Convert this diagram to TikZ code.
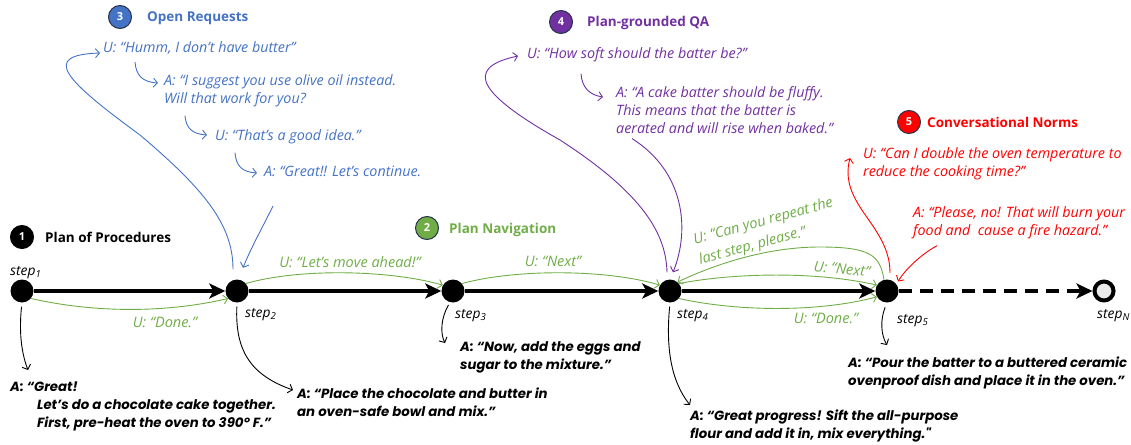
\documentclass[tikz,border=0pt]{standalone}
\usepackage{fontspec}
\setmainfont{Open Sans}
\newfontfamily\heavyfont{Poppins}
\usetikzlibrary{arrows.meta,calc}
\definecolor{bluC}{RGB}{68,114,196}
\definecolor{grnC}{RGB}{112,173,71}
\definecolor{purC}{RGB}{112,48,160}
\definecolor{redC}{RGB}{255,0,0}
\definecolor{rimC}{RGB}{40,50,75}
\begin{document}
\begin{tikzpicture}[x=1pt,y=-1pt,
 dot/.style={circle,fill=black,minimum size=23pt,inner sep=0pt},
 endnode/.style={circle,draw=black,line width=4pt,fill=black!8,minimum size=19pt,inner sep=0pt},
 badge/.style={circle,draw=rimC,line width=1pt,minimum size=23pt,inner sep=0pt,text=white,font=\bfseries\fontsize{11}{11}\selectfont},
 title/.style={anchor=base west,inner sep=0pt,font=\bfseries\fontsize{13.5}{16}\selectfont},
 said/.style={anchor=north west,inner sep=0pt,align=left,font=\itshape\fontsize{14.3}{18}\selectfont},
 reply/.style={anchor=north west,inner sep=0pt,align=left,font=\heavyfont\bfseries\itshape\fontsize{13.3}{18}\selectfont},
 steplbl/.style={anchor=base west,inner sep=0pt,font=\itshape\fontsize{13.8}{15}\selectfont},
 flow/.style={line width=4.5pt,-{Stealth[length=16pt,width=15pt,inset=4pt]}},
 talk/.style={line width=0.9pt,-{Straight Barb[length=4pt,width=9pt]}},
 glabel/.style={inner sep=0pt,text=grnC,font=\itshape\fontsize{14.5}{21}\selectfont},
]
\useasboundingbox (0,0) rectangle (1131,444);

% steps
\node[dot] (s1) at (22,291) {};
\node[dot] (s2) at (237,291) {};
\node[dot] (s3) at (453,291) {};
\node[dot] (s4) at (670,291) {};
\node[dot] (s5) at (887,291) {};
\node[endnode] (sN) at (1104,291) {};

\node[steplbl] (l1) at (10,275) {step\textsubscript{1}};
\node[steplbl] (l2) at (245,317) {step\textsubscript{2}};
\node[steplbl] (l3) at (455,318) {step\textsubscript{3}};
\node[steplbl] (l4) at (677,318) {step\textsubscript{4}};
\node[steplbl] (l5) at (897,323) {step\textsubscript{5}};
\node[steplbl] (lN) at (1097,318) {step\textsubscript{N}};

% badges and titles
\node[badge,fill=black,draw=black] (k1) at (22,237) {1};
\node[title] (t1) at (45,242) {Plan of Procedures};
\node[badge,fill=grnC] (k2) at (427,228) {2};
\node[title,text=grnC] (t2) at (449,233) {Plan Navigation};
\node[badge,fill=bluC] (k3) at (120,17) {3};
\node[title,text=bluC] (t3) at (147,22) {Open Requests};
\node[badge,fill=purC] (k4) at (561,22) {4};
\node[title,text=purC] (t4) at (587,27) {Plan-grounded QA};
\node[badge,fill=redC] (k5) at (909,122) {5};
\node[title,text=redC] (t5) at (927,127) {Conversational Norms};

% blue dialogue
\node[said,text=bluC] (bu) at (103,41) {U: “Humm, I don’t have butter”};
\node[said,text=bluC] (ba) at (164,74) {A: “I suggest you use olive oil instead.\\Will that work for you?};
\node[said,text=bluC] (bt) at (215,129) {U: “That’s a good idea.”};
\node[said,text=bluC] (bg) at (264,166) {A: “Great!! Let’s continue.};

% purple dialogue
\node[said,text=purC] (pu) at (527,47) {U: “How soft should the batter be?”};
\node[said,text=purC] (pa) at (616,86) {A: “A cake batter should be fluffy.\\This means that the batter is\\aerated and will rise when baked.”};

% red dialogue
\node[said,text=redC] (ru) at (863,147) {U: “Can I double the oven temperature to\\reduce the cooking time?”};
\node[said,text=redC] (ra) at (913,206) {A: “Please, no! That will burn your\\food and\ \ cause a fire hazard.”};

% black replies
\node[reply] (a1) at (10,382) {A: “Great!\\\hspace*{27pt}Let’s do a chocolate cake together.\\\hspace*{27pt}First, pre-heat the oven to 390º F.”};
\node[reply] (a2) at (297,388) {A: “Place the chocolate and butter in\\an oven-safe bowl and mix.”};
\node[reply] (a3) at (460,341) {A: “Now, add the eggs and\\sugar to the mixture.”};
\node[reply] (a4) at (690,410) {A: “Great progress! Sift the all-purpose\\flour and add it in, mix everything."};
\node[reply] (a5) at (848,357) {A: “Pour the batter to a buttered ceramic\\ovenproof dish and place it in the oven.”};

% green labels
\node[glabel] (gd1) at (165,322) {U: “Done.”};
\node[glabel] (gm) at (350,262) {U: “Let’s move ahead!”};
\node[glabel] (gn1) at (553,261) {U: “Next”};
\node[glabel,rotate=-6] (gn2) at (842,269) {U: “Next”};
\node[glabel] (gd2) at (826,318) {U: “Done.”};
\node[glabel,rotate=15,align=left] (gr) at (766,232) {U: “Can you repeat the\\last step, please.”};

% main flow
\draw[flow] (s1) -- (s2);
\draw[flow] (s2) -- (s3);
\draw[flow] (s3) -- (s4);
\draw[flow] (s4) -- (s5);
\draw[flow,dash pattern=on 13pt off 8pt] (s5) -- (sN);

% black reply arrows
\draw[talk,shorten <=4pt] (s1.south) .. controls (19,330) and (21,352) .. ([xshift=18pt,yshift=12pt]a1.north west);
\draw[talk,shorten <=4pt] (s2.south) .. controls (235,350) and (250,375) .. ([xshift=-4pt,yshift=-2pt]a2.north west);
\draw[talk,shorten <=3pt] (s3.255) .. controls (441,318) and (440,333) .. ([xshift=-15pt,yshift=-2pt]a3.north west);
\draw[talk,shorten <=4pt] (s4.south) .. controls (666,345) and (670,380) .. ([yshift=5pt]a4.north west);
\draw[talk,shorten <=5pt] (s5.south) .. controls (880,320) and (881,335) .. ([xshift=39pt,yshift=12pt]a5.north west);

% green navigation arrows
\begin{scope}[every path/.append style={draw=grnC}]
\draw[talk] (s1.-40) .. controls (100,314) and (170,312) .. (s2.220);
\draw[talk] (s2.40) .. controls (300,268) and (390,270) .. (s3.150);
\draw[talk] (s3.40) .. controls (520,268) and (610,270) .. (s4.150);
\draw[talk] (s4.40) .. controls (740,272) and (820,272) .. (s5.150);
\draw[talk] (s4.-40) .. controls (740,312) and (820,312) .. (s5.-150);
\draw[talk] (s5.105) .. controls (880,255) and (870,247) .. (820,247) .. controls (770,247) and (720,262) .. (s4.50);
\end{scope}

% blue arrows
\begin{scope}[every path/.append style={draw=bluC}]
\draw[talk] ([xshift=-4pt,yshift=10pt]s2.north) .. controls (233,225) and (205,190) .. (140,135) .. controls (65,80) and (40,55) .. ([xshift=-3pt,yshift=-12pt]bu.north west);
\draw[talk] ([xshift=32pt,yshift=-21pt]bu.north west) .. controls (136,75) and (142,82) .. ([xshift=-6pt,yshift=-9pt]ba.north west);
\draw[talk] ([xshift=21pt,yshift=-9pt]ba.south west) .. controls (186,128) and (192,134) .. ([xshift=-8pt,yshift=-6pt]bt.north west);
\draw[talk] ([xshift=20pt,yshift=-9pt]bt.south west) .. controls (236,166) and (242,172) .. ([xshift=-7pt,yshift=-7pt]bg.north west);
\draw[talk] ([xshift=9pt,yshift=-29pt]bg.south west) .. controls (262,228) and (250,250) .. ([xshift=6pt,yshift=11.5pt]s2.north);
\end{scope}

% purple arrows
\begin{scope}[every path/.append style={draw=purC}]
\draw[talk] ([xshift=-3pt,yshift=7pt]s4.north) .. controls (666,235) and (645,195) .. (560,140) .. controls (480,95) and (462,68) .. ([xshift=-9pt,yshift=-9pt]pu.north west);
\draw[talk] ([xshift=54pt,yshift=-12pt]pu.south west) .. controls (582,88) and (590,95) .. ([xshift=-13pt,yshift=-11pt]pa.north west);
\draw[talk] ([xshift=16pt,yshift=-5pt]pa.south west) .. controls (685,172) and (690,230) .. ([xshift=3pt,yshift=7pt]s4.north);
\end{scope}

% red arrows
\begin{scope}[every path/.append style={draw=redC}]
\draw[talk] ([xshift=3pt,yshift=6.5pt]s5.north) .. controls (890,225) and (838,205) .. ([xshift=-13pt,yshift=-11pt]ru.north west);
\draw[talk] ([xshift=24pt,yshift=-7pt]ra.south west) .. controls (920,255) and (905,270) .. ([xshift=2pt,yshift=2pt]s5.40);
\end{scope}
\end{tikzpicture}
\end{document}
